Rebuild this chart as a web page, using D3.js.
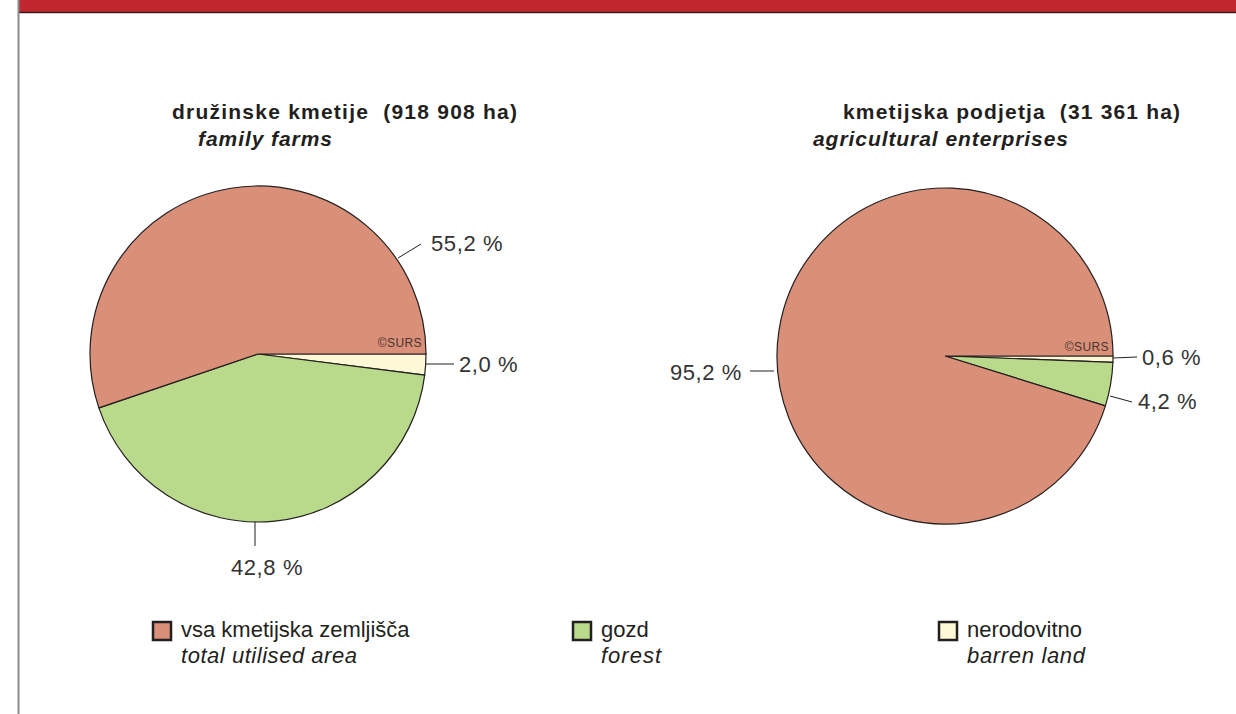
<!DOCTYPE html>
<html>
<head>
<meta charset="utf-8">
<script src="https://cdn.jsdelivr.net/npm/d3@7/dist/d3.min.js"></script>
<style>
  body { margin: 0; background: #fff; }
  svg text { font-family: "Liberation Sans", Arial, Helvetica, sans-serif; fill: #231f20; white-space: pre; }
</style>
</head>
<body>
<svg id="chart" width="1236" height="714"></svg>
<script>
// categories in drawing order (clockwise from 3 o'clock)
var categories = ["barren", "forest", "agri"];
var catLabelsSl = ["nerodovitno", "gozd", "vsa kmetijska zemljišča"];
var catLabelsEn = ["barren land", "forest", "total utilised area"];
var colors = ["#fff8d6", "#b9d98b", "#d98f78"];

var familyValues = [2.0, 42.8, 55.2];
var enterpriseValues = [0.6, 4.2, 95.2];

var titlesSl = ["družinske kmetije  (918 908 ha)", "kmetijska podjetja  (31 361 ha)"];
var titlesEn = ["family farms", "agricultural enterprises"];

var svg = d3.select("#chart");

// frame: red band at top, grey rule on the left
svg.append("rect").attr("x", 19).attr("y", 0).attr("width", 1217).attr("height", 12).attr("fill", "#c1272e");
svg.append("line").attr("x1", 19).attr("x2", 1236).attr("y1", 12.5).attr("y2", 12.5).attr("stroke", "#3a1c1c").attr("stroke-width", 1.5);
svg.append("line").attr("x1", 18.5).attr("x2", 18.5).attr("y1", 0).attr("y2", 714).attr("stroke", "#8a8a8a").attr("stroke-width", 2);

var r = 168;
var pie = d3.pie().sort(null).value(d => d).startAngle(Math.PI / 2).endAngle(Math.PI / 2 + 2 * Math.PI);
var arc = d3.arc().innerRadius(0).outerRadius(r);

function fmt(v) { return d3.format(".1f")(v).replace(".", ",") + " %"; }

function drawPie(cx, cy, values, labels, srsY) {
  var g = svg.append("g").attr("transform", `translate(${cx}, ${cy})`);
  g.selectAll("path.slice")
    .data(pie(values))
    .enter().append("path")
    .attr("class", "slice")
    .attr("d", arc)
    .attr("fill", (d, i) => colors[i])
    .attr("stroke", "#231f20")
    .attr("stroke-width", 1.2);

  g.append("text")
    .attr("x", r - 4).attr("y", srsY)
    .attr("text-anchor", "end")
    .attr("font-size", 12)
    .attr("letter-spacing", 0.4)
    .style("fill", "#4a3530")
    .text("©SURS");

  labels.forEach(function(l) {
    g.append("line")
      .attr("x1", l.x1).attr("y1", l.y1).attr("x2", l.x2).attr("y2", l.y2)
      .attr("stroke", "#231f20").attr("stroke-width", 1);
    g.append("text")
      .attr("x", l.tx).attr("y", l.ty)
      .attr("text-anchor", l.anchor)
      .attr("font-size", 22)
      .attr("letter-spacing", 0.6)
      .style("fill", "#333")
      .text(fmt(values[l.i]));
  });
  return g;
}

drawPie(258, 354, familyValues, [
  {i: 2, x1: 140, y1: -96, x2: 163, y2: -110, tx: 173, ty: -103, anchor: "start"},
  {i: 0, x1: 168, y1: 10, x2: 196, y2: 10, tx: 201, ty: 18, anchor: "start"},
  {i: 1, x1: -3, y1: 168, x2: -3, y2: 192, tx: 9, ty: 221, anchor: "middle"}
], -7);

drawPie(945, 356, enterpriseValues, [
  {i: 0, x1: 168, y1: 2, x2: 192, y2: 1, tx: 197, ty: 9, anchor: "start"},
  {i: 1, x1: 165, y1: 40, x2: 187, y2: 46, tx: 193, ty: 53, anchor: "start"},
  {i: 2, x1: -171, y1: 15, x2: -195, y2: 15, tx: -203, ty: 24, anchor: "end"}
], -5);

// titles
var titlePos = [{x: 172, w: 345, x2: 198, w2: 134}, {x: 843, w: 337, x2: 813, w2: 255}];
titlePos.forEach(function(p, i) {
  svg.append("text").attr("x", p.x).attr("y", 119)
    .attr("font-size", 21).attr("font-weight", "bold")
    .attr("textLength", p.w).attr("lengthAdjust", "spacing")
    .text(titlesSl[i]);
  svg.append("text").attr("x", p.x2).attr("y", 146)
    .attr("font-size", 21).attr("font-weight", "bold").attr("font-style", "italic")
    .attr("textLength", p.w2).attr("lengthAdjust", "spacing")
    .text(titlesEn[i]);
});

// legend (agri, forest, barren)
var legendOrder = [2, 1, 0];
var legendX = d3.scaleOrdinal().domain(legendOrder).range([152, 572, 938]);
var legendW2 = d3.scaleOrdinal().domain(legendOrder).range([176, 60, 118]);
var lg = svg.selectAll("g.legend")
  .data(legendOrder)
  .enter().append("g")
  .attr("class", "legend")
  .attr("transform", d => `translate(${legendX(d)}, 621)`);
lg.append("rect")
  .attr("x", 1).attr("y", 1).attr("width", 18).attr("height", 18)
  .attr("fill", d => colors[d])
  .attr("stroke", "#231f20").attr("stroke-width", 2.5);
lg.append("text").attr("x", 29).attr("y", 16).attr("font-size", 22)
  .text(d => catLabelsSl[d]);
lg.append("text").attr("x", 29).attr("y", 42).attr("font-size", 22).attr("font-style", "italic")
  .attr("textLength", d => legendW2(d)).attr("lengthAdjust", "spacing")
  .text(d => catLabelsEn[d]);
</script>
</body>
</html>
